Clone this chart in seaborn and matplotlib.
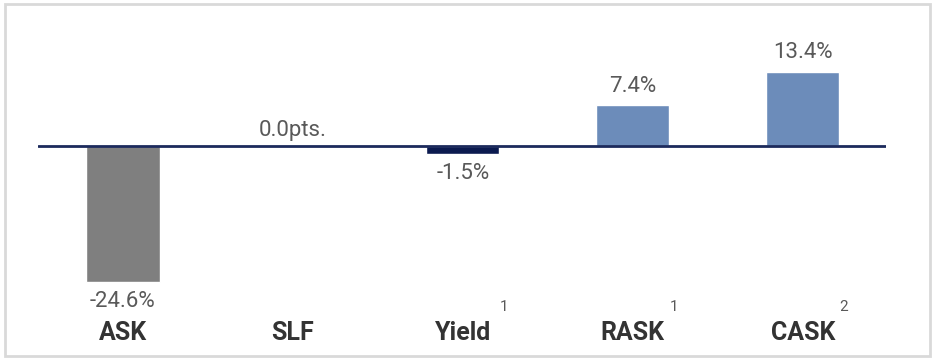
import matplotlib
matplotlib.use("Agg")
import matplotlib.pyplot as plt
from matplotlib.patches import Rectangle
import seaborn as sns
import pandas as pd

# Year-over-year change of key unit metrics
categories = ["ASK", "SLF", "Yield", "RASK", "CASK"]
values = [-24.6, 0.0, -1.5, 7.4, 13.4]
value_labels = ["-24.6%", "0.0pts.", "-1.5%", "7.4%", "13.4%"]
footnotes = ["", "", "1", "1", "2"]
bar_colors = ["#7f7f7f", "#7f7f7f", "#0b1a4f", "#6c8cba", "#6c8cba"]

df = pd.DataFrame({"metric": categories, "change": values})

sns.set_theme(style="white")
plt.rcParams["font.family"] = ["Roboto", "DejaVu Sans"]

W, H = 934, 359
fig = plt.figure(figsize=(W / 100, H / 100), dpi=100)
ax = fig.add_axes([38 / W, 1 - 290 / H, (886 - 38) / W, (290 - 10) / H])

sns.barplot(data=df, x="metric", y="change", hue="metric",
            palette=bar_colors, width=0.43, legend=False, ax=ax,
            saturation=1)

ax.set_xlim(-0.5, 4.49)
ax.set_ylim(-26.0, 24.6)
ax.axhline(0, color="#1c2a5c", lw=2, zorder=5)

for i, (v, lab) in enumerate(zip(values, value_labels)):
    if v > 0:
        off = 19
    elif v == 0:
        off = 16
    else:
        off = -19
    ax.annotate(lab, (i, v), xytext=(0, off), textcoords="offset pixels",
                ha="center", va="center", fontsize=16, color="#595959")

# category names below the plot, with footnote markers
for i, (cat, note) in enumerate(zip(categories, footnotes)):
    ax.text(i, -0.154, cat, transform=ax.get_xaxis_transform(),
            ha="center", va="center", fontsize=18, fontweight="bold",
            color="#333333")
    if note:
        ax.text(i + 0.24, -0.061, note, transform=ax.get_xaxis_transform(),
                ha="center", va="center", fontsize=11, color="#595959")

ax.set_xticks([])
ax.set_yticks([])
ax.set_xlabel("")
ax.set_ylabel("")
for s in ax.spines.values():
    s.set_visible(False)

# light frame around the figure
fig.patches.append(Rectangle((4.5 / W, 3.5 / H), (930 - 4.5) / W, (355 - 3.5) / H,
                             transform=fig.transFigure, fill=False,
                             edgecolor="#d9d9d9", lw=2))

fig.savefig("out.png", dpi=100)
